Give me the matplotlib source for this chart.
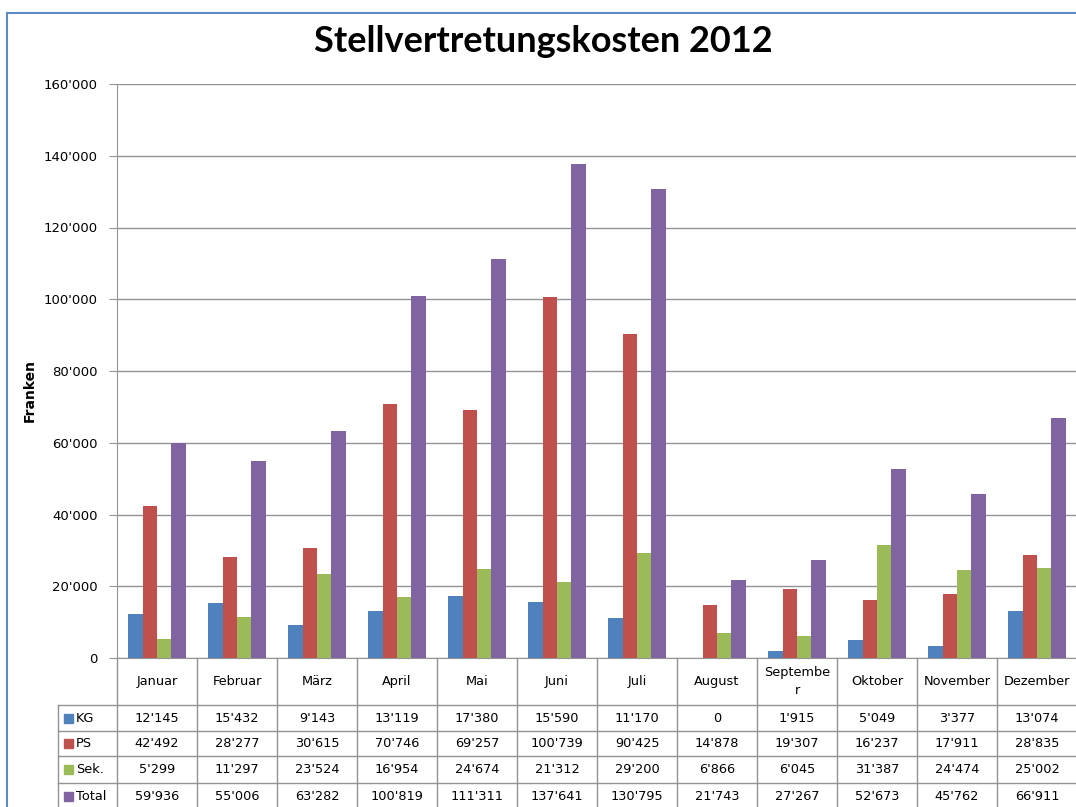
import matplotlib.pyplot as plt
import numpy as np
from matplotlib.patches import Rectangle
from matplotlib.lines import Line2D
from matplotlib.ticker import FuncFormatter
from matplotlib.transforms import blended_transform_factory

months = ['Januar', 'Februar', 'März', 'April', 'Mai', 'Juni', 'Juli',
          'August', 'Septembe\nr', 'Oktober', 'November', 'Dezember']
series_names = ['KG', 'PS', 'Sek.', 'Total']
kg = [12145, 15432, 9143, 13119, 17380, 15590, 11170, 0, 1915, 5049, 3377, 13074]
ps = [42492, 28277, 30615, 70746, 69257, 100739, 90425, 14878, 19307, 16237, 17911, 28835]
sek = [5299, 11297, 23524, 16954, 24674, 21312, 29200, 6866, 6045, 31387, 24474, 25002]
total = [59936, 55006, 63282, 100819, 111311, 137641, 130795, 21743, 27267, 52673, 45762, 66911]
colors = ['#4F81BD', '#C0504D', '#9BBB59', '#8064A2']

W, H = 1076, 807
grey = '#939393'


def fmt(v):
    return f'{int(v):,}'.replace(',', "'")


def fy(px):
    # pixel row from top -> figure fraction
    return 1 - px / H


fig = plt.figure(figsize=(W / 100, H / 100), dpi=100)
ax = fig.add_axes([117 / W, fy(658), 960 / W, 574 / H])

x = np.arange(len(months))
bw = 0.181
data = [kg, ps, sek, total]
for i, vals in enumerate(data):
    ax.bar(x + (i - 1.5) * bw, vals, width=bw, color=colors[i], zorder=3)

ax.set_xlim(-0.5, len(months) - 0.5)
ax.set_ylim(0, 160000)
ax.set_yticks(np.arange(0, 160001, 20000))
ax.yaxis.set_major_formatter(FuncFormatter(lambda v, p: fmt(v)))
ax.set_xticks([])
ax.grid(axis='y', color=grey, lw=1)
ax.set_axisbelow(True)
for s in ['top', 'right']:
    ax.spines[s].set_visible(False)
ax.spines['left'].set_color(grey)
ax.spines['bottom'].set_color(grey)
ax.tick_params(axis='y', length=6, color=grey, pad=8, labelsize=9.5)

# data table under the chart (x in category units, y in figure pixels)
tr = blended_transform_factory(ax.transData, fig.transFigure)
row_edges = [658, 705, 731, 756, 783, 809]
lab_left = -0.5 - 59 / 80
n = len(months)
kw = dict(transform=tr, color=grey, lw=1, clip_on=False)
for k in range(n + 1):
    fig.add_artist(Line2D([k - 0.5, k - 0.5], [fy(658), fy(809)], **kw))
fig.add_artist(Line2D([lab_left, lab_left], [fy(705), fy(809)], **kw))
for yb in row_edges[1:]:
    fig.add_artist(Line2D([lab_left, n - 0.5], [fy(yb), fy(yb)], **kw))

tfs = 9.3
for j, m in enumerate(months):
    fig.text(j, fy((658 + 705) / 2), m, transform=tr, ha='center', va='center',
             fontsize=tfs, linespacing=1.45)
for i, vals in enumerate(data):
    yc = (row_edges[i + 1] + row_edges[i + 2]) / 2
    for j, v in enumerate(vals):
        fig.text(j, fy(yc), fmt(v), transform=tr, ha='center', va='center', fontsize=tfs)
    fig.add_artist(Rectangle((64 / W, fy(yc + 4.5)), 9 / W, 9 / H,
                             transform=fig.transFigure, color=colors[i]))
    fig.text(76 / W, fy(yc), series_names[i], ha='left', va='center', fontsize=tfs)

fig.text(543 / W, fy(42), 'Stellvertretungskosten 2012', ha='center', va='center',
         fontsize=26, fontweight='bold', family='Lato')
fig.text(30 / W, fy(390), 'Franken', rotation=90, ha='center', va='center',
         fontsize=10, fontweight='bold')

# chart area border
fig.add_artist(Line2D([7 / W, 7 / W], [0, fy(13)], color='#5B8BC9', lw=1.5))
fig.add_artist(Line2D([7 / W, 1], [fy(13), fy(13)], color='#5B8BC9', lw=1.5))

fig.savefig('out.png', dpi=100)
